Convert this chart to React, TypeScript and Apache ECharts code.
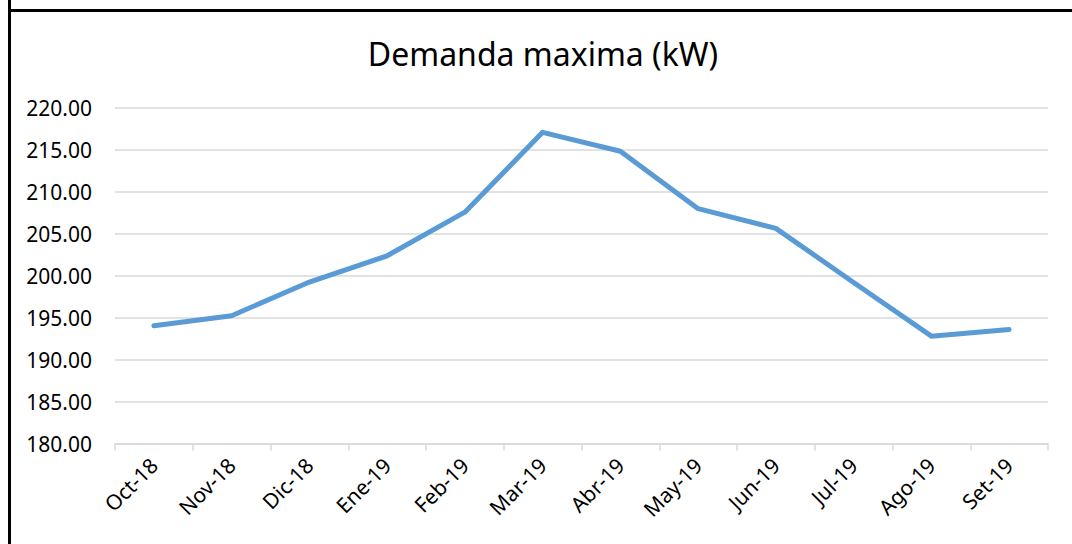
import React, { useEffect, useRef } from "react";
import * as echarts from "echarts";

const categories = ["Oct-18", "Nov-18", "Dic-18", "Ene-19", "Feb-19", "Mar-19", "Abr-19", "May-19", "Jun-19", "Jul-19", "Ago-19", "Set-19"];
const demanda = [194.05, 195.24, 199.25, 202.38, 207.58, 217.1, 214.85, 208.0, 205.65, 199.2, 192.8, 193.6];
const titleText = "Demanda maxima (kW)";
const yMin = 180;
const yMax = 220;
const yStep = 5;

export default function App() {
  const ref = useRef<HTMLDivElement>(null);
  useEffect(() => {
    if (!ref.current) return;
    const chart = echarts.init(ref.current, null, { renderer: "svg" });
    const font = "'Noto Sans', sans-serif";
    chart.setOption({
      animation: false,
      backgroundColor: "#ffffff",
      title: {
        text: titleText,
        left: 538,
        top: 32,
        textAlign: "center",
        textStyle: { fontFamily: font, fontSize: 32, fontWeight: "normal", color: "#000000" },
      },
      graphic: [
        { type: "line", shape: { x1: 9.5, y1: 0, x2: 9.5, y2: 544 }, style: { stroke: "#000", lineWidth: 3 } },
        { type: "line", shape: { x1: 8, y1: 10.5, x2: 1072, y2: 10.5 }, style: { stroke: "#000", lineWidth: 3 } },
      ],
      grid: { left: 115, right: 24, top: 108, bottom: 100.5, containLabel: false },
      xAxis: {
        type: "category",
        data: categories,
        boundaryGap: true,
        axisLine: { show: true, lineStyle: { color: "#d9d9d9", width: 1.5 } },
        axisTick: { show: true, alignWithLabel: false, length: 7, lineStyle: { color: "#d9d9d9", width: 1.5 } },
        axisLabel: { rotate: 45, margin: 18, fontFamily: font, fontSize: 21, color: "#000000", interval: 0 },
      },
      yAxis: {
        type: "value",
        min: yMin,
        max: yMax,
        interval: yStep,
        axisLine: { show: false },
        axisTick: { show: false },
        splitLine: { show: true, lineStyle: { color: "#d9d9d9", width: 1.5 } },
        axisLabel: {
          margin: 23,
          fontFamily: font,
          fontSize: 21,
          color: "#000000",
          formatter: (v: number) => v.toFixed(2),
        },
      },
      series: [
        {
          type: "line",
          data: demanda,
          symbol: "none",
          lineStyle: { color: "#5b9bd5", width: 5, cap: "round", join: "round" },
        },
      ],
    });
    return () => chart.dispose();
  }, []);
  return <div ref={ref} style={{ position: "fixed", left: 0, top: 0, width: 1072, height: 544 }} />;
}
